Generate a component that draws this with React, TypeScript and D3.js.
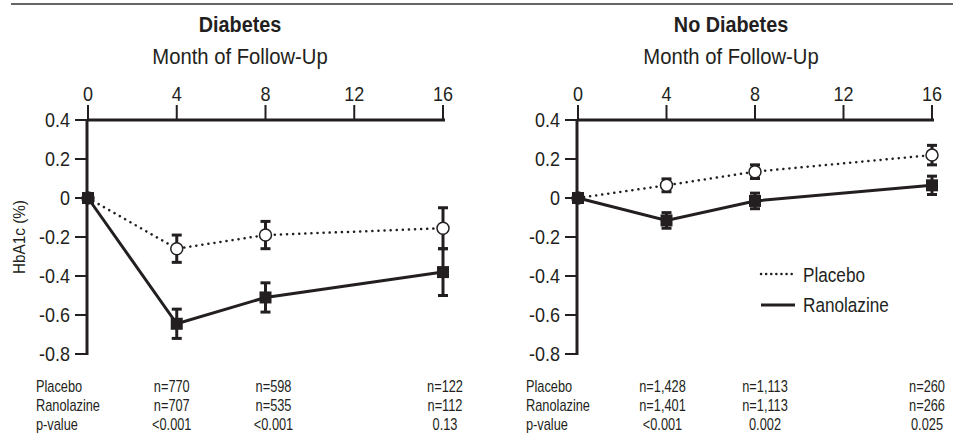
import React from 'react';
import * as d3 from 'd3';

// months shown at the top axis
const xTicks = [0, 4, 8, 12, 16];
const yTicks = [-0.8, -0.6, -0.4, -0.2, 0, 0.2, 0.4];
const yTickLabels = ['-0.8', '-0.6', '-0.4', '-0.2', '0', '0.2', '0.4'];

// follow-up visits
const months = [0, 4, 8, 16];

// Diabetes panel
const diabetesPlacebo = [0, -0.26, -0.19, -0.155];
const diabetesPlaceboErr = [0, 0.07, 0.07, 0.105];
const diabetesRanolazine = [0, -0.645, -0.51, -0.38];
const diabetesRanolazineErr = [0, 0.075, 0.075, 0.12];

// No Diabetes panel
const noDiabetesPlacebo = [0, 0.065, 0.135, 0.22];
const noDiabetesPlaceboErr = [0, 0.033, 0.035, 0.05];
const noDiabetesRanolazine = [0, -0.115, -0.015, 0.065];
const noDiabetesRanolazineErr = [0, 0.04, 0.04, 0.047];

// table under the plots
const tableRows = ['Placebo', 'Ranolazine', 'p-value'];
const tableMonths = [4, 8, 16];
const diabetesPlaceboN = ['n=770', 'n=598', 'n=122'];
const diabetesRanolazineN = ['n=707', 'n=535', 'n=112'];
const diabetesP = ['<0.001', '<0.001', '0.13'];
const noDiabetesPlaceboN = ['n=1,428', 'n=1,113', 'n=260'];
const noDiabetesRanolazineN = ['n=1,401', 'n=1,113', 'n=266'];
const noDiabetesP = ['<0.001', '0.002', '0.025'];

const FONT = 'Liberation Sans, Arial, sans-serif';
const INK = '#231f20';

function T(props: any) {
  const {x, y, size, anchor = 'start', weight = 'normal', sx = 0.9, rotate = 0, children} = props;
  return (
    <text
      transform={`translate(${x},${y}) rotate(${rotate}) scale(${sx},1)`}
      fontSize={size}
      fontFamily={FONT}
      fontWeight={weight}
      textAnchor={anchor}
      fill={INK}
    >
      {children}
    </text>
  );
}

function Panel(props: any) {
  const {x0, x1, title, titleX, placebo, placeboErr, rano, ranoErr, cols, colOffsets, showYLabel, showLegend} = props;
  const x = d3.scaleLinear().domain([0, 16]).range([x0, x1]);
  const y = d3.scaleLinear().domain([-0.8, 0.4]).range([354, 120]);

  const pts = (vals: number[]) => months.map((m, i) => [x(m), y(vals[i])] as [number, number]);
  const line = d3.line();

  const errBars = (vals: number[], errs: number[]) =>
    months.map((m, i) => {
      if (errs[i] === 0) return null;
      const cx = x(m);
      const top = y(vals[i] + errs[i]);
      const bot = y(vals[i] - errs[i]);
      return (
        <g key={i} stroke={INK} strokeWidth={3}>
          <line x1={cx} x2={cx} y1={top} y2={bot} />
          <line x1={cx - 5} x2={cx + 5} y1={top} y2={top} />
          <line x1={cx - 5} x2={cx + 5} y1={bot} y2={bot} />
        </g>
      );
    });

  const ax = x(0) - 1;

  return (
    <g>
      <T x={titleX} y={32} size={22} anchor="middle" weight="bold">{title}</T>
      <T x={titleX} y={64} size={22.5} anchor="middle">Month of Follow-Up</T>

      {/* top x axis */}
      <line x1={ax} x2={x(16) + 2} y1={y(0.4)} y2={y(0.4)} stroke={INK} strokeWidth={3} />
      {xTicks.map(t => (
        <g key={t}>
          <line x1={x(t)} x2={x(t)} y1={y(0.4)} y2={y(0.4) - 15} stroke={INK} strokeWidth={2} />
          <T x={x(t)} y={101} size={20} anchor="middle">{t}</T>
        </g>
      ))}

      {/* left y axis */}
      <line x1={ax} x2={ax} y1={y(0.4) - 1} y2={y(-0.8) + 1} stroke={INK} strokeWidth={3} />
      {yTicks.map((t, i) => (
        <g key={t}>
          <line x1={ax - 12} x2={ax} y1={y(t)} y2={y(t)} stroke={INK} strokeWidth={2} />
          <T x={ax - 17} y={y(t) + 7} size={20} anchor="end">{yTickLabels[i]}</T>
        </g>
      ))}
      {showYLabel && (
        <T x={25} y={(y(0.4) + y(-0.8)) / 2} size={17} anchor="middle" rotate={-90}>HbA1c (%)</T>
      )}

      {/* lines */}
      <path d={line(pts(placebo)) as string} fill="none" stroke={INK} strokeWidth={2.5}
        strokeDasharray="0.1 6" strokeLinecap="round" />
      <path d={line(pts(rano)) as string} fill="none" stroke={INK} strokeWidth={3} />

      {errBars(placebo, placeboErr)}
      {errBars(rano, ranoErr)}

      {/* markers */}
      {months.map((m, i) => (
        <circle key={'p' + i} cx={x(m)} cy={y(placebo[i])} r={6} fill="#fff" stroke={INK} strokeWidth={1.5} />
      ))}
      {months.map((m, i) => (
        <rect key={'r' + i} x={x(m) - 6} y={y(rano[i]) - 6} width={12} height={12} fill={INK} />
      ))}

      {/* table */}
      {tableRows.map((r, ri) => (
        <g key={r}>
          <T x={x(0) - 52} y={392 + ri * 19} size={16} sx={0.8}>{r}</T>
          {tableMonths.map((m, ci) => (
            <T key={m} x={x(m) + colOffsets[ci]} y={392 + ri * 19} size={16} sx={0.8} anchor="middle">
              {cols[ri][ci]}
            </T>
          ))}
        </g>
      ))}

      {showLegend && (
        <g>
          <line x1={761} x2={794} y1={274} y2={274} stroke={INK} strokeWidth={2.5}
            strokeDasharray="0.1 5" strokeLinecap="round" />
          <T x={803} y={282} size={19.5} sx={0.88}>Placebo</T>
          <line x1={761} x2={795} y1={305} y2={305} stroke={INK} strokeWidth={3} />
          <T x={803} y={312} size={19.5} sx={0.88}>Ranolazine</T>
        </g>
      )}
    </g>
  );
}

export default function App() {
  return (
    <svg width={953} height={444} style={{position: 'absolute', left: 0, top: 0, background: '#fff'}}>
      <line x1={11} x2={953} y1={4} y2={4} stroke="#666" strokeWidth={2} />
      <Panel
        x0={88} x1={443} title="Diabetes" titleX={240}
        placebo={diabetesPlacebo} placeboErr={diabetesPlaceboErr}
        rano={diabetesRanolazine} ranoErr={diabetesRanolazineErr}
        cols={[diabetesPlaceboN, diabetesRanolazineN, diabetesP]}
        colOffsets={[-5, 8, 2]}
        showYLabel={true} showLegend={false}
      />
      <Panel
        x0={578} x1={932} title="No Diabetes" titleX={731}
        placebo={noDiabetesPlacebo} placeboErr={noDiabetesPlaceboErr}
        rano={noDiabetesRanolazine} ranoErr={noDiabetesRanolazineErr}
        cols={[noDiabetesPlaceboN, noDiabetesRanolazineN, noDiabetesP]}
        colOffsets={[-4, 10, -5]}
        showYLabel={false} showLegend={true}
      />
    </svg>
  );
}
